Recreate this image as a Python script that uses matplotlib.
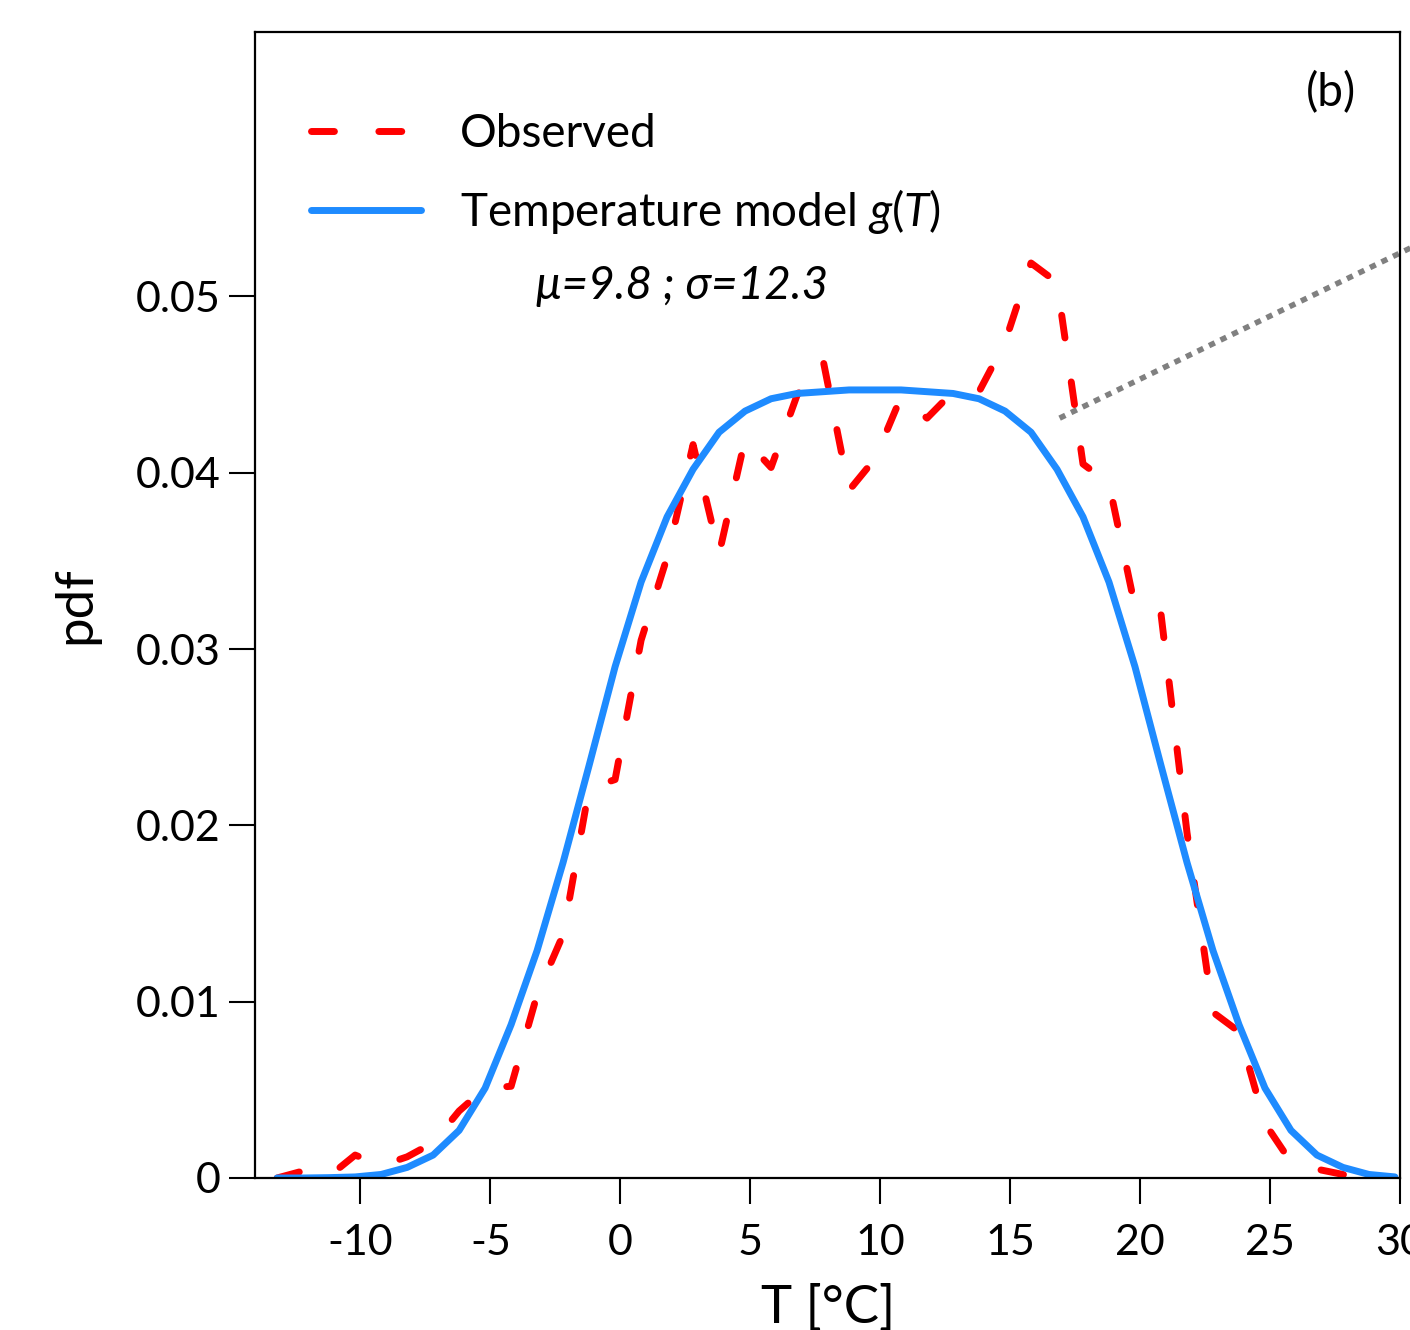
# pdf of temperature: observed vs. model g(T), panel (b)
import matplotlib
matplotlib.use('Agg')
from matplotlib import pyplot as plt
from matplotlib.lines import Line2D

plt.rcParams['font.family'] = ['Lato', 'DejaVu Sans']
plt.rcParams['mathtext.fontset'] = 'custom'
plt.rcParams['mathtext.rm'] = 'Lato'
plt.rcParams['mathtext.it'] = 'Lato:italic'
plt.rcParams['axes.unicode_minus'] = False

temps = [-13.2, -12.2, -11.2, -10.2, -9.2, -8.2, -7.2, -6.2, -5.2, -4.2,
         -3.2, -2.2, -1.2, -0.2, 0.8, 1.8, 2.8, 3.8, 4.8, 5.8,
         6.8, 7.8, 8.8, 9.8, 10.8, 11.8, 12.8, 13.8, 14.8, 15.8,
         16.8, 17.8, 18.8, 19.8, 20.8, 21.8, 22.8, 23.8, 24.8, 25.8,
         26.8, 27.8, 28.8, 29.8]

observed = [0.0000, 0.0004, 0.0001, 0.0013, 0.0007, 0.0012, 0.0020, 0.0038, 0.0051, 0.0052,
            0.0104, 0.0138, 0.0221, 0.0226, 0.0305, 0.0352, 0.0416, 0.0354, 0.0419, 0.0403,
            0.0444, 0.0464, 0.0390, 0.0408, 0.0443, 0.0431, 0.0446, 0.0446, 0.0474, 0.0519,
            0.0508, 0.0405, 0.0394, 0.0324, 0.0320, 0.0196, 0.0094, 0.0083, 0.0031, 0.0009,
            0.0005, 0.0002, 0.0000, 0.0000]

model = [0.0000, 0.0000, 0.00002, 0.00006, 0.0002, 0.0006, 0.0013, 0.0027, 0.0051, 0.0087,
         0.0129, 0.0179, 0.0234, 0.0290, 0.0338, 0.0375, 0.0402, 0.0423, 0.0435, 0.0442,
         0.0445, 0.0446, 0.0447, 0.0447, 0.0447, 0.0446, 0.0445, 0.0442, 0.0435, 0.0423,
         0.0402, 0.0375, 0.0338, 0.0290, 0.0234, 0.0179, 0.0129, 0.0087, 0.0051, 0.0027,
         0.0013, 0.0006, 0.0002, 0.00006]

xticks = [-10, -5, 0, 5, 10, 15, 20, 25, 30]
yticks = [0, 0.01, 0.02, 0.03, 0.04, 0.05]
ytick_labels = ['0', '0.01', '0.02', '0.03', '0.04', '0.05']

# zoom link line (to the next panel)
link_x = [16.9, 32.0]
link_y = [0.0431, 0.0539]

fig = plt.figure(figsize=(14.1, 13.3), dpi=100)
ax = fig.add_axes([0.1809, 0.1143, 0.8121, 0.8616])

red, = ax.plot(temps, observed, color='#ff0000', lw=5, label='Observed',
               dash_capstyle='round', solid_capstyle='round')
red.set_dashes((3.3, 6.4))
ax.plot(temps, model, color='#1e8bff', lw=5, label='Temperature model $\\it{g(T)}$',
        solid_capstyle='round')

gray = Line2D(link_x, link_y, color='#808080', lw=4, clip_on=False)
gray.set_dashes((1.15, 1.15))
ax.add_line(gray)

ax.set_xlim(-14.05, 30)
ax.set_ylim(0, 0.065)
ax.set_xticks(xticks)
ax.set_xticklabels([str(t) for t in xticks])
ax.set_yticks(yticks)
ax.set_yticklabels(ytick_labels)
ax.tick_params(direction='out', length=19, width=1.5, labelsize=31, pad=6)
ax.tick_params(axis='x', pad=14)
for s in ax.spines.values():
    s.set_linewidth(1.6)

ax.set_xlabel('T [°C]', fontsize=38, labelpad=16)
ax.set_ylabel('pdf', fontsize=38, labelpad=26)

leg = ax.legend(loc='upper left', bbox_to_anchor=(0.013, 0.965), frameon=False,
                fontsize=33, handlelength=2.4, handletextpad=0.85, labelspacing=0.7)

ax.text(0.373, 0.778, 'μ=9.8 ; σ=12.3', transform=ax.transAxes, fontsize=33,
        style='italic', ha='center', va='center', family=['Lato', 'DejaVu Sans'])
ax.text(0.94, 0.947, '(b)', transform=ax.transAxes, fontsize=33, ha='center', va='center')

fig.savefig('out.png', dpi=100)
